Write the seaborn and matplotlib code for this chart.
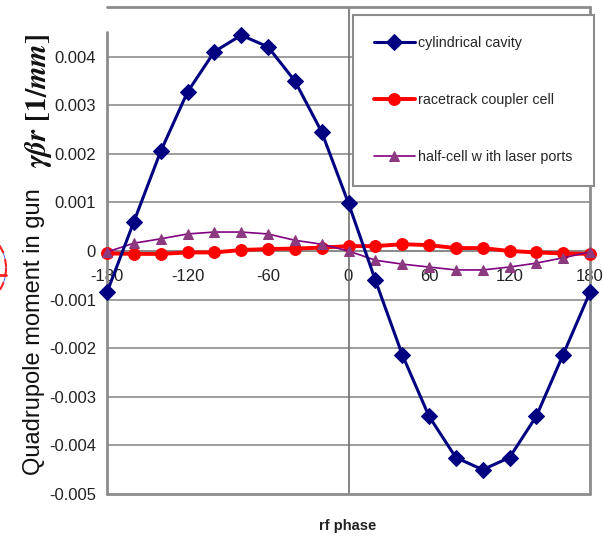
import numpy as np
import pandas as pd
import seaborn as sns
import matplotlib.pyplot as plt
from matplotlib.patches import Arc

# rf phase in degrees
phase = [-180, -160, -140, -120, -100, -80, -60, -40, -20, 0,
         20, 40, 60, 80, 100, 120, 140, 160, 180]

# quadrupole moment values
cylindrical = [-0.00085, 0.0006, 0.00205, 0.00327, 0.0041, 0.00444, 0.0042, 0.0035, 0.00245, 0.00098,
               -0.0006, -0.00213, -0.0034, -0.00425, -0.0045, -0.00425, -0.0034, -0.00213, -0.00085]
racetrack = [-0.00005, -0.00006, -0.00006, -0.00003, -0.00003, 0.00002, 0.00004, 0.00005, 0.00007, 0.0001,
             0.0001, 0.00014, 0.00012, 0.00006, 0.00006, 0.0, -0.00003, -0.00005, -0.00006]
half_cell = [-0.00002, 0.00016, 0.00025, 0.00035, 0.00039, 0.00039, 0.00035, 0.00022, 0.00014, 0.0,
             -0.00019, -0.00027, -0.00033, -0.00039, -0.00039, -0.00033, -0.00025, -0.00014, -0.00002]

series_names = ["cylindrical cavity", "racetrack coupler cell", "half-cell w ith laser ports"]
xticks = [-180, -120, -60, 0, 60, 120, 180]
yticks = [-0.005, -0.004, -0.003, -0.002, -0.001, 0, 0.001, 0.002, 0.003, 0.004]

sns.set_style("white")
plt.rcParams['font.family'] = ['Liberation Sans', 'DejaVu Sans']
plt.rcParams['mathtext.fontset'] = 'stix'

fig = plt.figure(figsize=(6.03, 5.39), dpi=100)
ax = fig.add_axes([107/603, 1 - 494/539, 483/603, 487/539])

grey = "#8c8c8c"

# series
sns.lineplot(x=phase, y=cylindrical, ax=ax, color="#000080", lw=2.2, marker="D",
             markersize=8.5, markeredgecolor="#000080", label=series_names[0], clip_on=False, zorder=5)
sns.lineplot(x=phase, y=racetrack, ax=ax, color="#ff0000", lw=2.8, marker="o",
             markersize=8.5, markeredgecolor="#ff0000", label=series_names[1], clip_on=False, zorder=4)
sns.lineplot(x=phase, y=half_cell, ax=ax, color="#800080", lw=1.2, marker="^",
             markersize=7.5, markerfacecolor="#8c3a7f", markeredgecolor="#8c3a7f",
             label=series_names[2], clip_on=False, zorder=4)

ax.set_xlim(-180, 180)
ax.set_ylim(-0.005, 0.00502)

# grid lines
for v in yticks[1:]:
    if v != 0:
        ax.axhline(v, color=grey, lw=1.2, zorder=1)
ax.axvline(0, color="#707070", lw=1.2, zorder=1)

# frame
for s in ["left", "top", "right"]:
    ax.spines[s].set_visible(False)
ax.spines["bottom"].set_position(("data", 0))
ax.spines["bottom"].set_color(grey)
ax.spines["bottom"].set_linewidth(1.5)
ax.axhline(-0.005, color=grey, lw=2, clip_on=False, zorder=2)
ax.axhline(0.00502, color=grey, lw=2, clip_on=False, zorder=2)
ax.axvline(180, color=grey, lw=2, clip_on=False, zorder=2)
ax.axvline(-180, ymin=0, ymax=(0.0045 + 0.005) / 0.01002, color=grey, lw=2, clip_on=False, zorder=2)

ax.set_xticks(xticks)
ax.set_xticklabels([str(t) for t in xticks])
ax.set_yticks(yticks)
ax.set_yticklabels(["-0.005", "-0.004", "-0.003", "-0.002", "-0.001", "0",
                    "0.001", "0.002", "0.003", "0.004"])
ax.tick_params(axis="x", length=4, color=grey, direction="out", pad=9, labelsize=12, labelcolor="#222222")
ax.tick_params(axis="y", length=0, pad=8, labelsize=12, labelcolor="#222222")
ax.set_xlabel("")
ax.set_ylabel("")

# legend box
leg = ax.legend(loc="upper left", bbox_to_anchor=(353/603, 1 - 15/539),
                bbox_transform=fig.transFigure, frameon=True, fancybox=False,
                fontsize=10.3, labelspacing=3.0, handlelength=2.8, handletextpad=0.25,
                borderpad=1.5, borderaxespad=0)
leg.get_frame().set_edgecolor(grey)
leg.get_frame().set_linewidth(1.5)
leg.get_frame().set_facecolor("white")
leg.get_frame().set_alpha(1)
leg.set_zorder(10)

# axis titles
fig.text(34/603, 1 - 332/539, "Quadrupole moment in gun", rotation=90,
         ha="center", va="center", fontsize=17, color="#111111")
fig.text(39/603, 1 - 101/539, r"$\mathbfit{\gamma\beta r}$ $\mathbf{[1/}\mathbfit{mm}\mathbf{]}$",
         rotation=90, ha="center", va="center", fontsize=21, color="#111111")
fig.text(348/603, 1 - 526/539, "rf phase", ha="center", va="center",
         fontsize=10.5, fontweight="bold", color="#222222")

# fragment of a circle at left edge
arc_ax = fig.add_axes([0, 0, 1, 1], facecolor="none")
arc_ax.set_xlim(0, 603)
arc_ax.set_ylim(539, 0)
arc_ax.axis("off")
arc_ax.add_patch(Arc((-22, 268), 56, 70, color="#3050ff", lw=0.6))
arc_ax.add_patch(Arc((-22, 268), 56, 70, color="#ff2020", lw=1.5, ls=(0, (4, 3))))
arc_ax.plot([0, 6], [275, 275], color="#ff2020", lw=2)

fig.savefig("out.png", dpi=100)
